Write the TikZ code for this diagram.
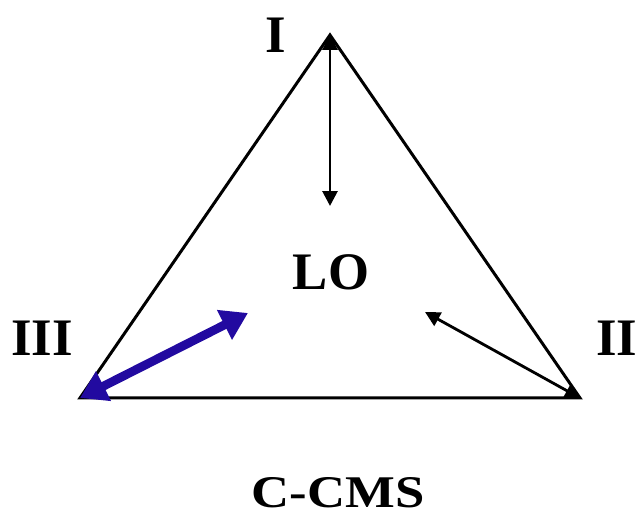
\documentclass[tikz,border=0pt]{standalone}
\usepackage{fontspec}
\setmainfont{Liberation Serif}
\usetikzlibrary{arrows.meta}

\definecolor{arrowblue}{RGB}{34,10,160}

\begin{document}
\begin{tikzpicture}[
    x=0.2mm, y=-0.2mm,
    >=Stealth,
    font=\bfseries\fontsize{30}{34}\selectfont,
    edge/.style={line width=1.7pt, line join=miter},
    arr/.style={{Triangle[length=8.5pt,width=8.5pt]}-{Triangle[length=8.5pt,width=8.5pt]}, line width=1.6pt},
    barr/.style={{Triangle[length=15pt,width=18pt]}-{Triangle[length=15pt,width=18pt]}, line width=5pt, draw=arrowblue},
    lab/.style={inner sep=0pt}
]
\useasboundingbox (0,0) rectangle (638,518);

% =========================================================
% 1) TRIANGLE
% =========================================================
\coordinate (top) at (330,35);
\coordinate (left) at (80,398);
\coordinate (right) at (580,398);
\draw[edge] (top) -- (right) -- (left) -- cycle;

% corner labels
\node[lab] (lI) at (276,35) {I};
\node[lab] (lII) at (617,338) {II};
\node[lab] (lIII) at (42,338) {III};
\node[lab] (lo) at (331,272) {LO};
\node[lab, yscale=0.86, transform shape] (ccms) at (338,493) {C-CMS};

% =========================================================
% 2) ARROWS TOWARDS THE CENTRE
% =========================================================
\coordinate (endI) at (330,206);
\coordinate (endII) at (425,312);
\coordinate (endIII) at (248,313);

\draw[arr] (top) -- (endI);
\draw[arr] (right) -- (endII);
\draw[barr] (left) -- (endIII);

\end{tikzpicture}
\end{document}
